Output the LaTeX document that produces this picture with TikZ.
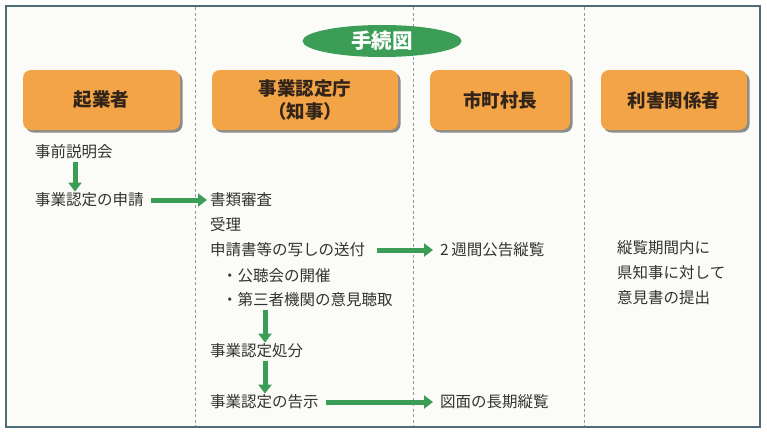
\documentclass[tikz,border=0pt]{standalone}
\usepackage{fontspec}
\setmainfont{Noto Sans CJK JP}
\usetikzlibrary{arrows.meta,calc,shapes.geometric,shadows}
\definecolor{framec}{HTML}{4F6B78}
\definecolor{dashc}{HTML}{8A9AA8}
\definecolor{orangec}{HTML}{F2A447}
\definecolor{greenc}{HTML}{3C9E56}
\definecolor{textc}{HTML}{333333}
\definecolor{headc}{HTML}{33241A}
\definecolor{bgc}{HTML}{FBFBF8}
\tikzset{
  header/.style={draw=none, fill=orangec, rounded corners=8pt, minimum height=60pt,
    align=center, text=headc, font=\fontsize{18.5}{23}\selectfont\bfseries,
    drop shadow={shadow xshift=2.5pt, shadow yshift=-2.5pt, fill=black!45, opacity=1}},
  txt/.style={anchor=west, inner sep=0pt, text=textc, font=\fontsize{15.5}{25}\selectfont},
  garrow/.style={draw=greenc, line width=5pt, -{Triangle[width=13pt,length=9pt]}},
  divider/.style={draw=dashc, line width=0.7pt, dash pattern=on 3pt off 2.5pt},
}
\begin{document}
\begin{tikzpicture}[x=1pt,y=-1pt]
\useasboundingbox (0,0) rectangle (767,434);
\fill[white] (0,0) rectangle (767,434);
\draw[framec, line width=1.5pt, fill=bgc] (6,6) rectangle (760,427);
\draw[divider] (195,7) -- (195,426);
\draw[divider] (413,7) -- (413,426);
\draw[divider] (584,7) -- (584,426);

\node[ellipse, fill=greenc, minimum width=159pt, minimum height=32pt, inner sep=0pt,
  text=white, font=\fontsize{20.5}{24}\selectfont\bfseries] (title) at (382,41) {手続図};

\node[header, minimum width=157pt] (kigyo) at (101.5,100) {起業者};
\node[header, minimum width=186pt] (chiji) at (305,100) {事業認定庁\\（知事）};
\node[header, minimum width=140pt] (shicho) at (500,100) {市町村長};
\node[header, minimum width=146pt] (rigai) at (674,100) {利害関係者};

\node[txt] (jizen) at (35,152) {事前説明会};
\node[txt] (shinsei) at (35,200) {事業認定の申請};
\node[txt] (shorui) at (210,200) {書類審査};
\node[txt] (juri) at (210,225) {受理};
\node[txt] (sofu) at (210,250) {申請書等の写しの送付};
\node[txt] (koukoku) at (440,250) {2\,週間公告縦覧};
\node[txt] (kochokai) at (222,276) {・公聴会の開催};
\node[txt] (daisan) at (222,300) {・第三者機関の意見聴取};
\node[txt] (shobun) at (210,351) {事業認定処分};
\node[txt] (kokuji) at (210,402) {事業認定の告示};
\node[txt] (zumen) at (440,402) {図面の長期縦覧};
\node[txt, align=left, anchor=north west] (iken) at (617,240) {縦覧期間内に\\県知事に対して\\意見書の提出};

\coordinate (ax1) at (75,0);
\coordinate (ax2) at (265,0);
\draw[garrow] ($(jizen.south -| ax1)+(0,3)$) -- ($(shinsei.north -| ax1)+(0,-1)$);
\draw[garrow, shorten <=7pt, shorten >=3pt] (shinsei.east) -- (shorui.west);
\draw[garrow, shorten <=12pt, shorten >=7pt] (sofu.east) -- (koukoku.west);
\draw[garrow] ($(daisan.south -| ax2)+(0,3)$) -- ($(shobun.north -| ax2)+(0,-1)$);
\draw[garrow] ($(shobun.south -| ax2)+(0,3)$) -- ($(kokuji.north -| ax2)+(0,-1)$);
\draw[garrow, shorten <=7pt, shorten >=7pt] (kokuji.east) -- (zumen.west);
\end{tikzpicture}
\end{document}
